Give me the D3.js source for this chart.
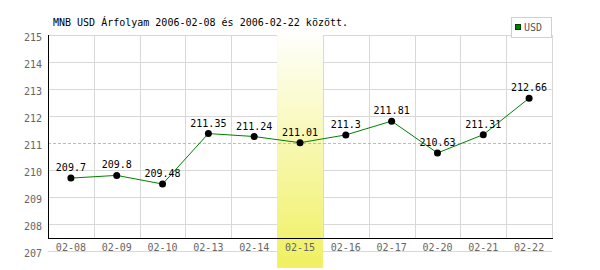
<!DOCTYPE html>
<html>
<head>
<meta charset="utf-8">
<script src="https://cdn.jsdelivr.net/npm/d3@7"></script>
<style>
  body { margin: 0; background: #fff; }
  svg { display: block; }
  text { font-family: "DejaVu Sans Mono", monospace; }
</style>
</head>
<body>
<div id="chart"></div>
<script>
// chart data
var dates = ["02-08", "02-09", "02-10", "02-13", "02-14", "02-15", "02-16", "02-17", "02-20", "02-21", "02-22"];
var usd = [209.7, 209.8, 209.48, 211.35, 211.24, 211.01, 211.3, 211.81, 210.63, 211.31, 212.66];
var yTicks = [207, 208, 209, 210, 211, 212, 213, 214, 215];
var highlightDate = "02-15";
var refValue = 211;
var title = "MNB USD Árfolyam 2006-02-08 és 2006-02-22 között.";
var seriesName = "USD";

var width = 600, height = 270;
var plotLeft = 48, plotRight = 552, plotTop = 35, axisY = 238;

var svg = d3.select("#chart").append("svg")
    .attr("width", width)
    .attr("height", height);

var x = d3.scaleBand().domain(dates).range([plotLeft, plotRight]).padding(0);
var y = d3.scaleLinear().domain([207, 215]).range([251, plotTop]);

// gradient for the highlighted day
var grad = svg.append("defs").append("linearGradient")
    .attr("id", "hl").attr("x1", 0).attr("y1", 0).attr("x2", 0).attr("y2", 1);
grad.append("stop").attr("offset", "0%").attr("stop-color", "#ffffff");
grad.append("stop").attr("offset", "100%").attr("stop-color", "#f0f060");

// horizontal grid
svg.append("g")
    .selectAll("line")
    .data(yTicks.filter(function(d) { return d !== refValue; }))
    .enter().append("line")
    .attr("x1", plotLeft).attr("x2", plotRight)
    .attr("y1", function(d) { return Math.round(y(d)) + 0.5; })
    .attr("y2", function(d) { return Math.round(y(d)) + 0.5; })
    .style("stroke", "#d8d8d8");

// vertical grid
svg.append("g")
    .selectAll("line")
    .data(dates)
    .enter().append("line")
    .attr("x1", function(d) { return Math.round(x(d) + x.bandwidth()) + 0.5; })
    .attr("x2", function(d) { return Math.round(x(d) + x.bandwidth()) + 0.5; })
    .attr("y1", plotTop).attr("y2", axisY)
    .style("stroke", "#d8d8d8");

// highlighted column
svg.append("rect")
    .attr("x", x(highlightDate))
    .attr("y", 29)
    .attr("width", x.bandwidth())
    .attr("height", 268 - 29)
    .attr("fill", "url(#hl)");

// reference line
svg.append("line")
    .attr("x1", plotLeft).attr("x2", plotRight)
    .attr("y1", Math.round(y(refValue)) + 0.5)
    .attr("y2", Math.round(y(refValue)) + 0.5)
    .style("stroke", "#b0c4b0")
    .style("stroke-dasharray", "3,2");

// axes
svg.append("line")
    .attr("x1", plotLeft + 0.5).attr("x2", plotLeft + 0.5)
    .attr("y1", plotTop).attr("y2", axisY + 1)
    .style("stroke", "#000");
svg.append("line")
    .attr("x1", plotLeft).attr("x2", plotRight + 1)
    .attr("y1", axisY + 0.5).attr("y2", axisY + 0.5)
    .style("stroke", "#000");

var yAxis = svg.append("g")
    .attr("transform", "translate(" + plotLeft + ",0)")
    .call(d3.axisLeft(y).tickValues(yTicks).tickSize(0).tickPadding(6).tickFormat(d3.format("d")));
yAxis.select(".domain").remove();
yAxis.selectAll("text")
    .attr("dy", "0.5em")
    .style("font-family", "DejaVu Sans Mono")
    .style("font-size", "10px")
    .style("fill", "#666");

var xAxis = svg.append("g")
    .attr("transform", "translate(0," + axisY + ")")
    .call(d3.axisBottom(x).tickSize(0).tickPadding(6));
xAxis.select(".domain").remove();
xAxis.selectAll("text")
    .style("font-family", "DejaVu Sans Mono")
    .style("font-size", "10px")
    .style("fill", "#666");

// line
var line = d3.line()
    .x(function(d, i) { return x(dates[i]) + x.bandwidth() / 2; })
    .y(function(d) { return y(d); });

svg.append("path")
    .datum(usd)
    .attr("d", line)
    .style("fill", "none")
    .style("stroke", "#008000")
    .style("stroke-width", 1);

// points
svg.append("g")
    .selectAll("circle")
    .data(usd)
    .enter().append("circle")
    .attr("cx", function(d, i) { return x(dates[i]) + x.bandwidth() / 2; })
    .attr("cy", function(d) { return y(d); })
    .attr("r", 3.5)
    .style("fill", "#000");

// value labels
svg.append("g")
    .selectAll("text")
    .data(usd)
    .enter().append("text")
    .attr("x", function(d, i) { return x(dates[i]) + x.bandwidth() / 2; })
    .attr("y", function(d) { return y(d) - 7; })
    .attr("text-anchor", "middle")
    .style("font-size", "10px")
    .style("fill", "#000")
    .text(function(d) { return d; });

// title
svg.append("text")
    .attr("x", 53)
    .attr("y", 26)
    .style("font-size", "10px")
    .style("fill", "#000")
    .text(title);

// legend
svg.append("rect")
    .attr("x", 511.5).attr("y", 17.5)
    .attr("width", 40).attr("height", 20)
    .style("fill", "#fff")
    .style("stroke", "#d0d0d0");
svg.append("rect")
    .attr("x", 515.5).attr("y", 24.5)
    .attr("width", 5).attr("height", 5)
    .style("fill", "#008000")
    .style("stroke", "#004000");
svg.append("text")
    .attr("x", 524)
    .attr("y", 31)
    .style("font-size", "10px")
    .style("fill", "#555")
    .text(seriesName);
</script>
</body>
</html>
